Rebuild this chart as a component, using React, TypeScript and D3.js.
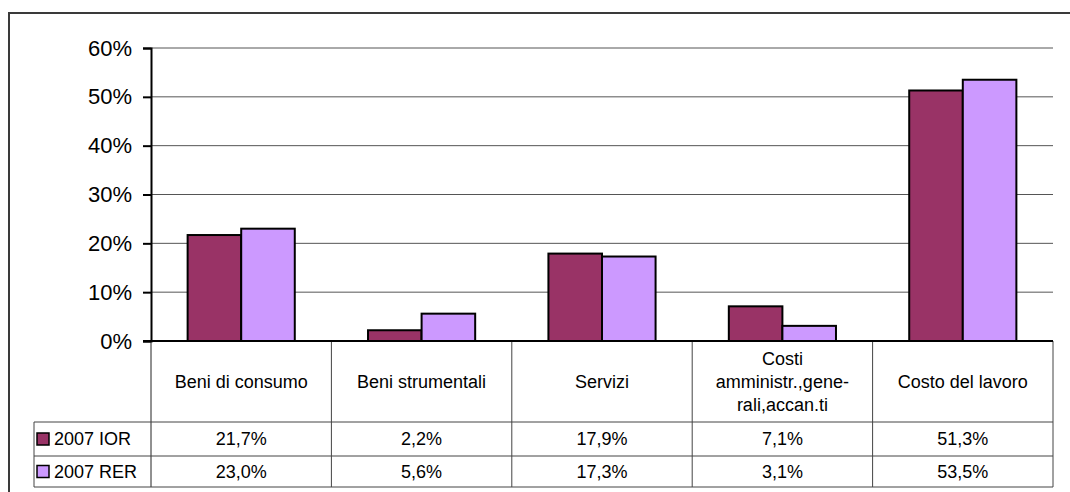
import React, { useEffect, useRef } from 'react';
import * as d3 from 'd3';

const categories = ['Beni di consumo', 'Beni strumentali', 'Servizi', 'Costi amministr.,gene-rali,accan.ti', 'Costo del lavoro'];
const categoryLines = [['Beni di consumo'], ['Beni strumentali'], ['Servizi'], ['Costi', 'amministr.,gene-', 'rali,accan.ti'], ['Costo del lavoro']];
const seriesNames = ['2007 IOR', '2007 RER'];
const ior = [21.7, 2.2, 17.9, 7.1, 51.3];
const rer = [23.0, 5.6, 17.3, 3.1, 53.5];
const yTicks = [0, 10, 20, 30, 40, 50, 60];
const colors = ['#993366', '#CC99FF'];

const W = 1070;
const H = 492;
const FONT = '"Liberation Sans", Arial, sans-serif';

const App = () => {
  const svgRef = useRef<SVGSVGElement>(null);

  useEffect(() => {
    document.body.style.margin = '0';
    const svg = d3.select(svgRef.current);
    svg.selectAll('*').remove();

    const left = 151, right = 1053, top = 48, zeroY = 341;
    const catRowBottom = 422, row1Bottom = 456, row2Bottom = 487;
    const legendLeft = 34;

    // outer frame (clipped at right and bottom like the source)
    svg.append('rect')
      .attr('x', 9).attr('y', 13)
      .attr('width', W).attr('height', H)
      .attr('fill', 'white').attr('stroke', '#3a3a3a').attr('stroke-width', 2);

    const x0 = d3.scaleBand<string>().domain(categories).range([left, right]).paddingInner(0).paddingOuter(0);
    const pad = x0.bandwidth() * 0.203;
    const x1 = d3.scaleBand<string>().domain(seriesNames).range([pad, x0.bandwidth() - pad]);
    const y = d3.scaleLinear().domain([0, 60]).range([zeroY, top]);

    // gridlines
    svg.append('g').selectAll('line')
      .data(yTicks.filter(d => d > 0))
      .join('line')
      .attr('x1', left).attr('x2', right)
      .attr('y1', d => y(d)).attr('y2', d => y(d))
      .attr('stroke', '#555').attr('stroke-width', 1);

    // y axis
    const yAxis = svg.append('g')
      .attr('transform', `translate(${left},0)`)
      .call(d3.axisLeft(y).tickValues(yTicks).tickSize(8).tickPadding(11).tickFormat(d => `${d}%`));
    yAxis.select('.domain').attr('stroke', '#000').attr('stroke-width', 2);
    yAxis.selectAll('.tick line').attr('stroke', '#000').attr('stroke-width', 2);
    yAxis.selectAll('.tick text')
      .attr('font-family', FONT).attr('font-size', 22).attr('fill', '#000');

    // bars
    const series = [ior, rer];
    const groups = svg.append('g').selectAll('g')
      .data(categories)
      .join('g')
      .attr('transform', d => `translate(${x0(d)},0)`);
    groups.selectAll('rect')
      .data((_, i) => seriesNames.map((s, j) => ({ s, v: series[j][i], c: colors[j] })))
      .join('rect')
      .attr('x', d => x1(d.s)!)
      .attr('y', d => y(d.v))
      .attr('width', x1.bandwidth())
      .attr('height', d => zeroY - y(d.v))
      .attr('fill', d => d.c)
      .attr('stroke', '#000').attr('stroke-width', 2);

    // table lines
    const tl = svg.append('g').attr('stroke', '#444').attr('stroke-width', 1);
    const bounds = categories.map(c => x0(c)!).concat([right]);
    bounds.forEach((bx, i) => {
      if (i === 0) return;
      tl.append('line').attr('x1', bx).attr('x2', bx).attr('y1', zeroY).attr('y2', row2Bottom);
    });
    tl.append('line').attr('x1', left).attr('x2', left).attr('y1', zeroY).attr('y2', row2Bottom).attr('stroke', '#222');
    tl.append('line').attr('x1', legendLeft).attr('x2', legendLeft).attr('y1', catRowBottom).attr('y2', row2Bottom);
    [catRowBottom, row1Bottom, row2Bottom].forEach(ry => {
      tl.append('line').attr('x1', legendLeft).attr('x2', right).attr('y1', ry).attr('y2', ry);
    });

    // x axis line on top
    svg.append('line')
      .attr('x1', left - 8).attr('x2', right)
      .attr('y1', zeroY).attr('y2', zeroY)
      .attr('stroke', '#000').attr('stroke-width', 2);

    // category labels
    const catMid = (zeroY + catRowBottom) / 2;
    const lh = 23.3;
    categories.forEach((c, i) => {
      const lines = categoryLines[i];
      const t = svg.append('text')
        .attr('font-family', FONT).attr('font-size', 18).attr('fill', '#000')
        .attr('text-anchor', 'middle');
      lines.forEach((ln, k) => {
        t.append('tspan')
          .attr('x', x0(c)! + x0.bandwidth() / 2)
          .attr('y', catMid + (k - (lines.length - 1) / 2) * lh)
          .attr('dy', '0.35em')
          .text(ln);
      });
    });

    // value rows and legend
    const rowMids = [(catRowBottom + row1Bottom) / 2, (row1Bottom + row2Bottom) / 2];
    series.forEach((vals, j) => {
      const ry = rowMids[j];
      svg.append('rect')
        .attr('x', 37).attr('y', ry - 6)
        .attr('width', 12).attr('height', 12)
        .attr('fill', colors[j]).attr('stroke', '#000').attr('stroke-width', 1.5);
      svg.append('text')
        .attr('x', 54).attr('y', ry).attr('dy', '0.35em')
        .attr('font-family', FONT).attr('font-size', 18).attr('fill', '#000')
        .text(seriesNames[j]);
      svg.append('g').selectAll('text')
        .data(vals)
        .join('text')
        .attr('x', (_, i) => x0(categories[i])! + x0.bandwidth() / 2)
        .attr('y', ry).attr('dy', '0.35em')
        .attr('text-anchor', 'middle')
        .attr('font-family', FONT).attr('font-size', 18).attr('fill', '#000')
        .text(d => `${d.toFixed(1).replace('.', ',')}%`);
    });
  }, []);

  return (
    <div style={{ width: W, height: H }}>
      <svg ref={svgRef} width={W} height={H} style={{ display: 'block' }}></svg>
    </div>
  );
};

export default App;
